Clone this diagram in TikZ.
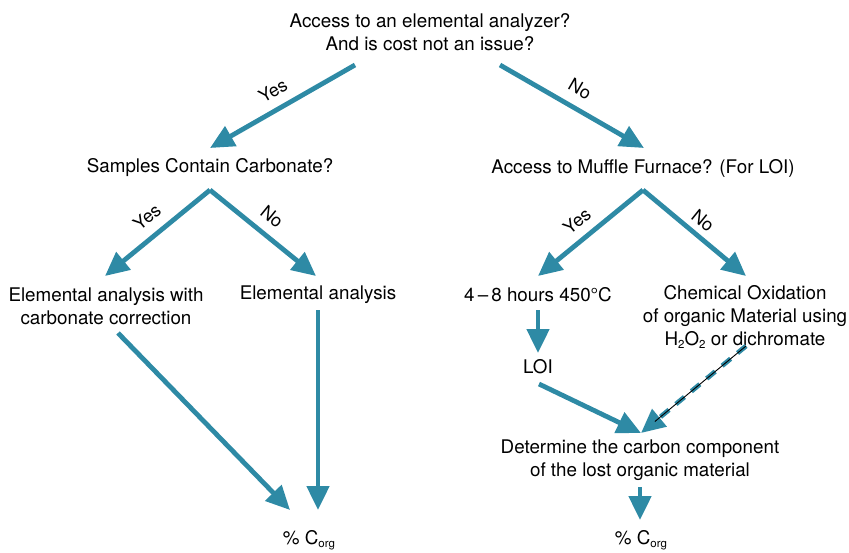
\documentclass[tikz,border=0pt]{standalone}
\usepackage{fontspec}
\setmainfont{TeX Gyre Heros}
\usetikzlibrary{arrows.meta}
\definecolor{teal1}{RGB}{46,138,165}
\newcommand{\lowsub}[1]{\raisebox{-3.5pt}{\fontsize{11.5}{11.5}\selectfont #1}}
\begin{document}
\begin{tikzpicture}[x=1pt,y=-1pt,
  txt/.style={font=\fontsize{18.8}{22.8}\selectfont,align=center,inner sep=0pt},
  lbl/.style={font=\fontsize{18}{21}\selectfont,inner sep=0pt},
  arr/.style={draw=teal1,line width=4.8pt,-{Triangle[length=24pt,width=22pt,fill=teal1]}},
  darr/.style={draw=teal1,line width=4.8pt,dash pattern=on 11pt off 9pt,-{Triangle[length=24pt,width=22pt,fill=teal1]}}]
\useasboundingbox (0,0) rectangle (849,552);
\node[txt] (top) at (430,32) {Access to an elemental analyzer?\\And is cost not an issue?};
\node[txt] (samp) at (210,168) {Samples Contain Carbonate?};
\node[txt] (muff) at (643,168) {Access to Muffle Furnace? (For LOI)};
\node[txt] (eawc) at (106,306) {Elemental analysis with\\carbonate correction};
\node[txt] (ea) at (318,295) {Elemental analysis};
\node[txt] (hrs) at (538,295) {4\,–\,8 hours 450°C};
\node[txt] (chem) at (745,317) {Chemical Oxidation\\of organic Material using\\H\lowsub{2}O\lowsub{2} or dichromate};
\node[txt] (loi) at (538,367) {LOI};
\node[txt] (det) at (640,460) {Determine the carbon component\\of the lost organic material};
\node[txt] (c1) at (309,540) {\% C\lowsub{org}};
\node[txt] (c2) at (641,540) {\% C\lowsub{org}};
% arrow end points
\coordinate (a1s) at (355,65); \coordinate (a1e) at (210,148);
\coordinate (a2s) at (500,65); \coordinate (a2e) at (644,148);
\coordinate (a3s) at (210,190); \coordinate (a3e) at (105,276);
\coordinate (a4s) at (210,190); \coordinate (a4e) at (316,276);
\coordinate (a5s) at (643,190); \coordinate (a5e) at (538,276);
\coordinate (a6s) at (643,190); \coordinate (a6e) at (746,276);
\coordinate (a7s) at (538,310); \coordinate (a7e) at (538,353);
\coordinate (a8s) at (539,384); \coordinate (a8e) at (641,433);
\coordinate (a9s) at (746,346); \coordinate (a9e) at (641,433);
\coordinate (a10s) at (640,487); \coordinate (a10e) at (640,520);
\coordinate (a11s) at (118,333); \coordinate (a11e) at (290,510);
\coordinate (a12s) at (318,310); \coordinate (a12e) at (318,510);
\draw[arr] (a1s) -- (a1e);
\draw[arr] (a2s) -- (a2e);
\draw[arr] (a3s) -- (a3e);
\draw[arr] (a4s) -- (a4e);
\draw[arr] (a5s) -- (a5e);
\draw[arr] (a6s) -- (a6e);
\draw[arr] (a7s) -- (a7e);
\draw[arr] (a8s) -- (a8e);
\draw[darr] (a9s) -- (a9e);
\draw[black,line width=0.9pt,shorten >=18pt] (a9s) -- (a9e);
\draw[arr] (a10s) -- (a10e);
\draw[arr] (a11s) -- (a11e);
\draw[arr] (a12s) -- (a12e);
\node[lbl,rotate=30] (l1) at (273,91) {Yes};
\node[lbl,rotate=-30] (l2) at (580,89) {No};
\node[lbl,rotate=39] (l3) at (147,217) {Yes};
\node[lbl,rotate=-39] (l4) at (272,217) {No};
\node[lbl,rotate=39] (l5) at (577,221) {Yes};
\node[lbl,rotate=-39] (l6) at (703,221) {No};
\end{tikzpicture}
\end{document}
